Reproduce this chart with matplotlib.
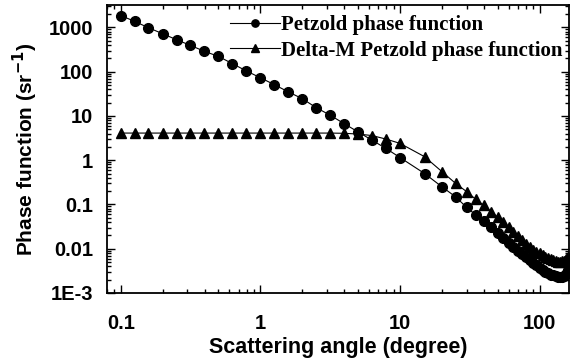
import matplotlib
matplotlib.use('Agg')
import matplotlib.pyplot as plt
from matplotlib.ticker import FixedLocator, FixedFormatter, LogLocator, NullFormatter

# scattering angles (degree)
angles = [0.1, 0.126, 0.158, 0.2, 0.251, 0.316, 0.398, 0.501, 0.631, 0.794,
          1.0, 1.259, 1.585, 1.995, 2.512, 3.162, 3.981, 5.012, 6.31, 7.943,
          10, 15, 20, 25, 30, 35, 40, 45, 50, 55, 60, 65, 70, 75, 80, 85, 90,
          95, 100, 105, 110, 115, 120, 125, 130, 135, 140, 145, 150, 155, 160]

petzold = [1860, 1370, 985, 720, 528, 393, 288, 222, 152, 104,
           73, 51, 35, 24.6, 15.4, 10.4, 6.7, 4.35, 2.83, 1.84,
           1.15, 0.50, 0.25, 0.149, 0.086, 0.0575, 0.0428, 0.0314, 0.0229, 0.0171,
           0.0137, 0.0111, 0.0090, 0.0076, 0.0064, 0.0056, 0.0048,
           0.0042, 0.0037, 0.0033, 0.0030, 0.0028, 0.0026, 0.0025, 0.0024, 0.0023,
           0.0023, 0.0023, 0.0024, 0.0027, 0.0033]

delta_m = [4.1, 4.1, 4.1, 4.1, 4.1, 4.1, 4.1, 4.1, 4.1, 4.1,
           4.1, 4.1, 4.1, 4.1, 4.1, 4.1, 4.05, 3.9, 3.6, 3.0,
           2.4, 1.2, 0.55, 0.30, 0.195, 0.13, 0.095, 0.068, 0.052, 0.040,
           0.031, 0.024, 0.019, 0.0157, 0.013, 0.011, 0.0095,
           0.0085, 0.0078, 0.0072, 0.0066, 0.0062, 0.0058, 0.0055, 0.0053, 0.0051,
           0.0051, 0.0052, 0.0054, 0.0058, 0.0065]

ytick_vals = [1e-3, 1e-2, 1e-1, 1, 10, 100, 1000]
ytick_labels = ['1E-3', '0.01', '0.1', '1', '10', '100', '1000']
xtick_vals = [0.1, 1, 10, 100]
xtick_labels = ['0.1', '1', '10', '100']

plt.rcParams['font.family'] = ['Liberation Sans', 'DejaVu Sans']
plt.rcParams['font.weight'] = 'bold'

fig = plt.figure(figsize=(5.7, 3.63), dpi=100)
ax = fig.add_axes([0.188, 0.193, 0.81, 0.793])

ax.plot(angles, petzold, color='k', lw=0.8, marker='o', ms=7,
        label='Petzold phase function')
ax.plot(angles, delta_m, color='k', lw=0.8, marker='^', ms=7,
        label='Delta-M Petzold phase function')

ax.set_xscale('log')
ax.set_yscale('log')
ax.set_xlim(0.08, 162)
ax.set_ylim(1e-3, 3200)

ax.xaxis.set_major_locator(FixedLocator(xtick_vals))
ax.xaxis.set_major_formatter(FixedFormatter(xtick_labels))
ax.xaxis.set_minor_locator(LogLocator(base=10, subs=range(2, 10)))
ax.xaxis.set_minor_formatter(NullFormatter())
ax.yaxis.set_major_locator(FixedLocator(ytick_vals))
ax.yaxis.set_major_formatter(FixedFormatter(ytick_labels))
ax.yaxis.set_minor_locator(LogLocator(base=10, subs=range(2, 10)))
ax.yaxis.set_minor_formatter(NullFormatter())

ax.tick_params(which='both', direction='in', top=True, right=True,
               labelsize=14.5, width=1)
ax.tick_params(which='major', length=6)
ax.tick_params(axis='x', which='major', pad=15)
ax.tick_params(axis='y', which='major', pad=10)
ax.tick_params(which='minor', length=3)
for s in ax.spines.values():
    s.set_linewidth(1.3)

ax.set_xlabel('Scattering angle (degree)', fontsize=15.5, fontweight='bold', labelpad=3)
ax.set_ylabel('Phase function (sr$^{\\mathbf{-1}}$)', fontsize=15, fontweight='bold', labelpad=6)

ax.legend(loc='upper right', frameon=False, markerscale=0.75,
          prop={'family': 'Liberation Serif', 'weight': 'bold', 'size': 15},
          handlelength=2.4, handletextpad=0.05, labelspacing=0.25,
          borderaxespad=0.1, bbox_to_anchor=(1.008, 1.0))

fig.savefig('out.png', dpi=100)
